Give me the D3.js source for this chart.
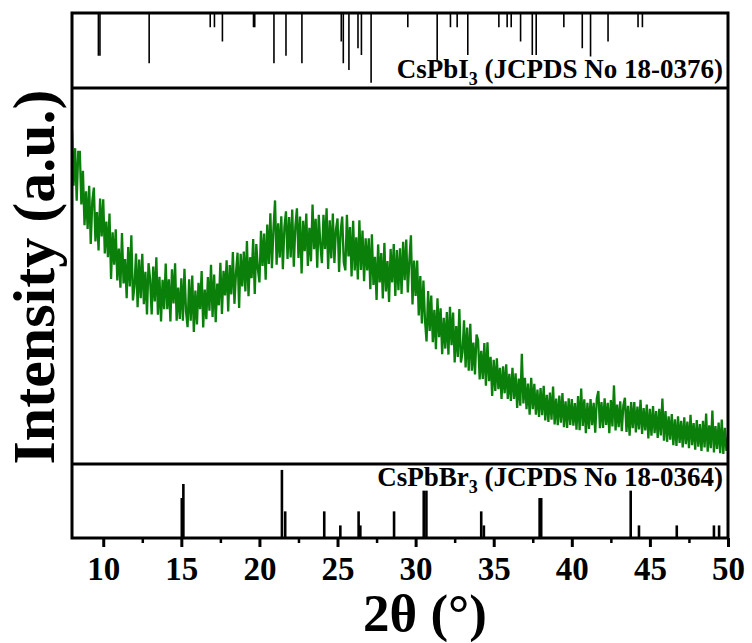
<!DOCTYPE html>
<html>
<head>
<meta charset="utf-8">
<script src="https://cdn.jsdelivr.net/npm/d3@7"></script>
<style>
  body { margin: 0; background: #fff; }
  svg { display: block; }
  text { font-family: "Liberation Serif", "Times New Roman", serif; font-weight: bold; fill: #000; }
</style>
</head>
<body>
<svg id="xrd-chart" width="752" height="643"></svg>
<script>
// XRD pattern with CsPbI3 / CsPbBr3 reference sticks

// measured pattern, 2theta from 8.0 to 50.0 in 0.1 deg steps (one row per degree)
const thetaStart = 8.0;
const thetaStep = 0.1;
const intensity = [
  89, 74, 84, 70, 83, 83, 69, 78, 63.5, 72.5,
  62.5, 74, 58.5, 70, 73.5, 59.2, 67, 56.8, 70.6, 60.5,
  70.4, 56, 64.5, 55, 66.6, 49.2, 61.6, 53, 62.4, 48.8,
  57.3, 46.9, 61.4, 48, 54.5, 44.1, 57.7, 47.2, 60.8, 43.5,
  47.3, 56, 41.7, 54.4, 44.1, 55.9, 42.5, 51.1, 39.8, 53.4,
  49.1, 39.8, 52.5, 43.2, 55, 39.7, 49.8, 37.9, 49, 41.2,
  53.3, 41.2, 49.1, 37.9, 51.8, 42.7, 53.4, 38.1, 46.9, 38.6,
  49.4, 38.1, 51.9, 40.6, 36.4, 49.1, 38.1, 50.1, 35.1, 46.1,
  37.1, 48.2, 41.2, 51.3, 36.3, 46.4, 38.5, 49.7, 40.8, 53,
  39.1, 50.4, 37.7, 48, 42.2, 53.5, 39.9, 51.4, 44.8, 54.2,
  40.6, 52.9, 45.1, 56.4, 42.6, 50.9, 56.2, 41.5, 55.9, 47.2,
  56.5, 45.9, 59.3, 44.6, 55, 49.4, 59.8, 45.2, 58.5, 51.9,
  48.3, 62, 52.7, 61.3, 49, 63.7, 53.2, 66.7, 52.1, 62.6,
  70.1, 53, 64, 54.9, 65.9, 51.8, 63, 67.2, 54.5, 65.7,
  54.9, 67.7, 52.5, 63.2, 68, 54.8, 65.8, 50.7, 64.7, 56.6,
  66.6, 52.7, 62.8, 53.9, 69, 57.1, 65.2, 52.2, 66.3, 58.3,
  53.4, 66.3, 57.2, 68, 51.9, 64.8, 54.7, 66.6, 53.5, 62.4,
  65.3, 51.1, 61.9, 65.8, 53.6, 51.5, 66.3, 55.2, 63, 49.9,
  64.7, 51.5, 60.3, 49.1, 64.8, 51.6, 62.1, 48.6, 60, 51.5,
  60, 46.5, 61.1, 47.6, 55.1, 43.6, 58.4, 48.3, 56.1, 44,
  58.8, 45.9, 54, 43.1, 57.2, 48.3, 58.5, 44.7, 56.9, 46.2,
  57.4, 45.2, 59.1, 48.9, 59.7, 45.6, 54.2, 60.8, 42.4, 54.1,
  44.7, 54.1, 39.5, 50, 37.4, 48.8, 38.2, 32.6, 46, 35.4,
  44.8, 32.4, 41, 30.5, 44.1, 33.7, 41.4, 29.2, 38.9, 30.7,
  40.4, 29.1, 41.8, 31.6, 40.3, 27, 36.7, 28.5, 41.2, 27,
  29.7, 38.2, 25.7, 36.3, 24.8, 37.3, 24.8, 32.3, 23.8, 34.4,
  32.9, 22.5, 30.1, 22.6, 32.2, 20.8, 32.4, 22, 28.5, 18.1,
  27.7, 19.4, 28.1, 19.9, 25.6, 17.3, 26, 18.8, 26.5, 17.3,
  24, 16.8, 25.6, 17.3, 24.1, 14.9, 22.7, 15.5, 29.3, 16.1,
  22.9, 14.6, 21.4, 13.1, 22.9, 14.6, 21.3, 13.1, 19.8, 12.5,
  20.2, 13, 20.8, 11.6, 18.4, 11.2, 19, 11.8, 20.6, 10.5,
  17.4, 10.3, 18.2, 11, 18.9, 9.8, 16.7, 9.6, 17.5, 10.4,
  17.3, 10.2, 16.2, 9.1, 18.1, 9, 20.1, 10.1, 17.2, 8.2,
  16.3, 9.3, 17.3, 10.3, 16.3, 8.3, 17.4, 19.4, 9.5, 16.5,
  9.6, 17.5, 10.4, 16.3, 8.2, 17, 10, 20.9, 8.9, 15.8,
  9.8, 16.7, 8.7, 15.6, 17.6, 8.5, 15.5, 7.5, 16.5, 9.5,
  16.5, 8.4, 15.3, 9.2, 17.1, 8, 14.9, 8.9, 15.8, 6.8,
  14.7, 7.5, 15.4, 8.2, 14.1, 6.9, 14.7, 7.6, 17.4, 6.2,
  14.1, 5.9, 12.7, 6.5, 13.3, 5, 11.9, 4.8, 12.7, 5.6,
  11.5, 4.4, 12.4, 5.3, 11.3, 4.2, 13.1, 5, 10.9, 3.8,
  11.7, 4.6, 10.6, 3.5, 11.5, 4.4, 13.4, 3.3, 10.3, 4.2,
  14.2, 3.1, 10.1, 4, 11, 2.9, 11.8, 2.7, 9.6, 3.5,
  7
];

// CsPbI3 reference (JCPDS 18-0376)
const csPbI3Theta = [9.69, 9.79, 12.94, 16.85, 17.12, 17.63, 19.62, 19.70, 20.93, 21.70,
  22.72, 25.24, 25.37, 25.73, 26.31, 26.53, 27.15, 29.50, 31.38, 32.23,
  32.66, 33.34, 35.33, 35.86, 36.12, 36.72, 37.47, 37.72, 39.49, 40.67,
  41.20, 42.32, 44.24, 44.52];
const csPbI3Int = [57, 57, 67, 19, 19, 38, 19, 19, 67, 57,
  67, 38, 67, 76, 47, 56, 93, 19, 63, 19,
  19, 56, 19, 19, 19, 38, 56, 56, 19, 47,
  58, 38, 19, 19];

// CsPbBr3 reference (JCPDS 18-0364)
const csPbBr3Theta = [15.03, 15.13, 21.44, 21.65, 24.15, 25.18, 26.35, 26.46, 28.62, 30.52,
  30.69, 34.20, 34.37, 37.94, 38.04, 43.77, 44.30, 46.72, 49.10, 49.43];
const csPbBr3Int = [54, 73, 92, 36, 36, 17, 36, 17, 36, 64,
  64, 36, 17, 54, 54, 64, 17, 17, 17, 17];

const xTicks = [10, 15, 20, 25, 30, 35, 40, 45, 50];
const xMinorTicks = [12.5, 17.5, 22.5, 27.5, 32.5, 37.5, 42.5, 47.5];

// layout
const svg = d3.select("#xrd-chart");
const left = 72, right = 728;
const topY = 13, div1 = 88, div2 = 464, bottom = 538;

const x = d3.scaleLinear().domain([8, 50]).range([left, right]);
const yMain = d3.scaleLinear().domain([0, 100]).range([div2, div1]);
const yTop = d3.scaleLinear().domain([0, 100]).range([topY, div1]);
const yBot = d3.scaleLinear().domain([0, 100]).range([bottom, div2]);

// clip for the measured curve
svg.append("defs").append("clipPath").attr("id", "main-clip")
  .append("rect")
  .attr("x", left).attr("y", div1)
  .attr("width", right - left).attr("height", div2 - div1);

const line = d3.line()
  .x((d, i) => x(thetaStart + i * thetaStep))
  .y(d => yMain(d));

svg.append("path")
  .datum(intensity)
  .attr("clip-path", "url(#main-clip)")
  .attr("fill", "none")
  .attr("stroke", "#0a7f0a")
  .attr("stroke-width", 2.3)
  .attr("stroke-linejoin", "miter")
  .attr("d", line);

// top sticks hang from the top border
svg.append("g").selectAll("line")
  .data(csPbI3Theta)
  .join("line")
  .attr("x1", d => x(d)).attr("x2", d => x(d))
  .attr("y1", yTop(0))
  .attr("y2", (d, i) => yTop(csPbI3Int[i]))
  .attr("stroke", "#000")
  .attr("stroke-width", 1.6);

// bottom sticks rise from the axis
svg.append("g").selectAll("line")
  .data(csPbBr3Theta)
  .join("line")
  .attr("x1", d => x(d)).attr("x2", d => x(d))
  .attr("y1", yBot(0))
  .attr("y2", (d, i) => yBot(csPbBr3Int[i]))
  .attr("stroke", "#000")
  .attr("stroke-width", 2.6);

// bottom axis, major + minor ticks
const xAxis = svg.append("g")
  .attr("transform", `translate(0,${bottom})`)
  .call(d3.axisBottom(x).tickValues(xTicks).tickSize(9).tickSizeOuter(0).tickPadding(10));
xAxis.select(".domain").remove();
xAxis.selectAll(".tick line").attr("stroke-width", 3);
xAxis.selectAll(".tick text")
  .attr("font-family", null)
  .style("font-size", "33px");

const xMinor = svg.append("g")
  .attr("transform", `translate(0,${bottom})`)
  .call(d3.axisBottom(x).tickValues(xMinorTicks).tickSize(5).tickSizeOuter(0).tickFormat(""));
xMinor.select(".domain").remove();
xMinor.selectAll(".tick line").attr("stroke-width", 2.5);

// frame and panel dividers
svg.append("rect")
  .attr("x", left).attr("y", topY)
  .attr("width", right - left).attr("height", bottom - topY)
  .attr("fill", "none").attr("stroke", "#000").attr("stroke-width", 3);

[div1, div2].forEach(yy => {
  svg.append("line")
    .attr("x1", left).attr("x2", right)
    .attr("y1", yy).attr("y2", yy)
    .attr("stroke", "#000").attr("stroke-width", 3);
});

// reference labels
function refLabel(yPos, formula, card) {
  const t = svg.append("text")
    .attr("x", 723).attr("y", yPos)
    .attr("text-anchor", "end")
    .style("font-size", "27px");
  t.append("tspan").text(formula);
  t.append("tspan").attr("dy", 7).style("font-size", "18px").text("3");
  t.append("tspan").attr("dy", -7).text(" " + card);
}
refLabel(78, "CsPbI", "(JCPDS No 18-0376)");
refLabel(486, "CsPbBr", "(JCPDS No 18-0364)");

// axis titles
svg.append("text")
  .attr("transform", "rotate(-90)")
  .attr("x", -277).attr("y", 54)
  .attr("text-anchor", "middle")
  .style("font-size", "60px")
  .text("Intensity (a.u.)");

svg.append("text")
  .attr("x", 425).attr("y", 631)
  .attr("text-anchor", "middle")
  .style("font-size", "53px")
  .text("2θ (°)");
</script>
</body>
</html>
